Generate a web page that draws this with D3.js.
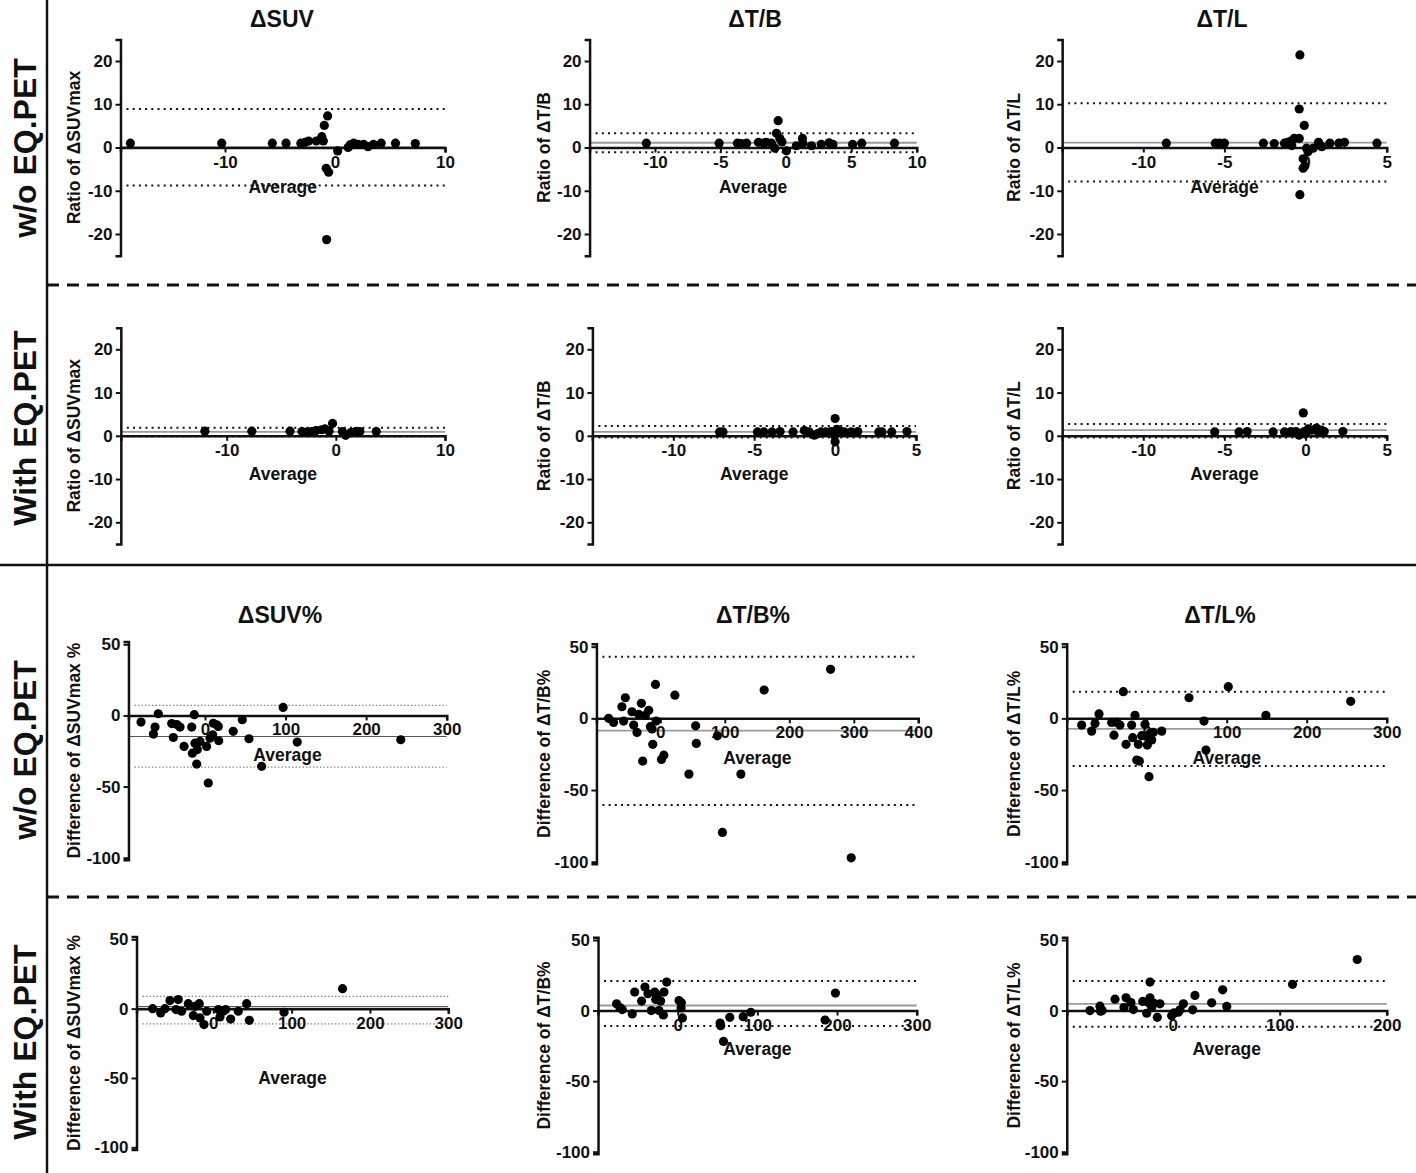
<!DOCTYPE html>
<html><head><meta charset="utf-8">
<script src="https://cdn.jsdelivr.net/npm/d3@7"></script>
<style>
html,body{margin:0;padding:0;background:#fff;}
text{font-family:"Liberation Sans",Arial,sans-serif;font-weight:bold;fill:#111;}
</style></head>
<body><svg id="c" width="1416" height="1173"></svg>
<script>
// ---------- DATA ----------
const colTitles = ["ΔSUV", "ΔT/B", "ΔT/L"];
const pctTitles = ["ΔSUV%", "ΔT/B%", "ΔT/L%"];
const rowLabels = ["w/o EQ.PET", "With EQ.PET", "w/o EQ.PET", "With EQ.PET"];
const yLabelsRatio = ["Ratio of ΔSUVmax", "Ratio of ΔT/B", "Ratio of ΔT/L"];
const yLabelsPct = ["Difference of ΔSUVmax %", "Difference of ΔT/B%", "Difference of ΔT/L%"];
const xLabel = "Average";
const ratioYTicks = [-20, -10, 0, 10, 20];
const pctYTicks = [-100, -50, 0, 50];

// Row 1: ratio, without EQ.PET  (limits = [mean, upper LoA, lower LoA])
const suvWoX = [-18.6,-10.3,-5.7,-4.45,-3.1,-2.7,-2.4,-1.7,-1.2,-1.06,-0.97,-0.67,-0.8,-0.58,-0.76,0.24,1.2,1.36,1.7,2.1,2.6,3.0,3.5,4.2,5.5,7.3];
const suvWoY = [1.0,1.0,1.0,1.0,1.0,1.2,1.5,1.5,2.5,1.5,5.1,7.3,-4.8,-5.7,-21.3,-0.8,0.0,0.6,1.0,0.7,0.7,0.2,0.7,1.0,1.0,0.9];
const suvWoLim = [0.1, 8.9, -8.8];
const suvWoXTicks = [-10, 0, 10];

const tbWoX = [-10.66,-5.1,-3.7,-3.4,-3.0,-2.1,-1.7,-1.5,-1.1,-0.84,-0.72,-0.59,-0.46,-0.3,0.05,0.8,1.27,1.3,1.96,2.7,3.3,3.6,5.1,5.8,8.3];
const tbWoY = [1.0,1.0,1.0,0.9,1.0,1.2,1.0,1.2,1.0,-0.15,3.3,6.2,2.1,1.3,-0.77,0.4,2.1,1.0,0.4,0.7,1.1,0.7,0.7,1.0,1.0];
const tbWoLim = [1.1, 3.3, -1.07];
const tbWoXTicks = [-10, -5, 0, 5, 10];

const tlWoX = [-8.58,-5.56,-5.3,-5.0,-2.6,-1.93,-1.3,-1.1,-0.9,-0.85,-0.7,-0.39,-0.35,-0.39,-0.35,-0.08,-0.15,-0.15,-0.05,0.06,0.15,0.47,0.8,1.0,1.5,2.05,2.4,4.4];
const tlWoY = [1.0,1.0,1.0,1.0,1.0,0.9,1.0,1.2,1.5,0.45,2.1,2.1,21.4,8.9,-10.9,5.1,-2.6,-4.8,-4.3,-0.15,-1.0,-0.15,1.2,0.2,1.0,1.0,1.2,1.0];
const tlWoLim = [1.15, 10.25, -7.85];
const tlWoXTicks = [-10, -5, 0, 5];

// Row 2: ratio, with EQ.PET
const suvWX = [-12.0,-7.7,-4.2,-3.1,-2.6,-2.2,-1.8,-1.3,-1.0,-0.62,-0.3,0.6,0.9,1.4,1.8,2.2,3.7];
const suvWY = [1.08,1.08,1.08,1.0,0.9,1.0,1.2,1.4,1.6,1.1,2.85,1.0,0.1,0.8,1.0,1.0,1.0];
const suvWLim = [0.92, 1.85, -0.1];
const suvWXTicks = [-10, 0, 10];

const tbWX = [-7.14,-6.93,-4.8,-4.4,-3.9,-3.4,-2.6,-1.9,-1.6,-1.28,-1.07,-0.87,-0.56,-0.25,0.0,-0.04,0.0,0.12,0.37,0.58,0.99,1.4,2.7,2.9,3.5,4.44];
const tbWY = [0.9,0.9,0.9,0.9,0.9,1.0,0.9,1.2,0.9,0.15,0.5,0.9,0.9,1.0,4.0,0.15,-1.4,1.5,1.0,0.9,0.9,1.0,0.9,0.9,0.9,1.0];
const tbWLim = [0.92, 2.25, -0.4];
const tbWXTicks = [-10, -5, 0, 5];

const tlWX = [-5.6,-4.1,-3.6,-2.0,-1.3,-0.9,-0.6,-0.4,-0.14,-0.08,0.0,0.16,0.37,0.67,0.78,0.99,1.15,2.3];
const tlWY = [0.9,0.9,1.0,0.9,0.9,1.0,1.0,0.15,5.3,1.0,0.5,1.6,1.3,1.8,0.9,1.3,1.0,1.0];
const tlWLim = [1.3, 2.7, -0.4];
const tlWXTicks = [-10, -5, 0, 5];

// Row 3: percent difference, without EQ.PET
const suvPctWoX = [-79.4,-62,-64,-58,-41.3,-39.3,-35,-31,-26,-16.5,-15.7,-13.3,-12.5,-10.3,-9.5,-6.2,2,4.1,6.2,9.5,10.3,14.5,16.5,17,35,46.3,54.6,70.3,97,114.5,243];
const suvPctWoY = [-4.7,-8.2,-13.1,1.2,-5.7,-15.5,-6.4,-8.2,-21.8,-8.2,-26.5,0.5,-19.5,-34.2,-24,-18.3,-21.8,-47.5,-16,-13.6,-5.5,-6.6,-7.7,-17.8,-11.2,-3,-16.4,-35.8,5.6,-18.7,-17.1];
const suvPctWoLim = [-14.8, 7.0, -36.3];
const suvPctWoXTicks = [0, 100, 200, 300];

const tbPctWoX = [-80.2,-72.4,-59.5,-54.2,-56.9,-43.9,-41.3,-36.1,-33.5,-29.3,-27.3,-23.1,-17.9,-15.3,-12.7,-11.7,-7.5,-6.5,1.8,5.5,22.6,44.4,54.8,55.8,88.5,96.3,125,161,264,296];
const tbPctWoY = [0,-2.8,8.1,14.4,-1.9,4.6,-4.7,-9.8,2.8,10.5,-29.8,2.1,5.6,-5.8,-7.4,-18.1,23.7,-1.9,-28.7,-25.7,16.2,-38.9,-5.2,-17.5,-12.2,-79.6,-38.9,19.8,34.2,-97.3];
const tbPctWoLim = [-8.6, 43, -60.5];
const tbPctWoXTicks = [0, 100, 200, 300, 400];

const tlPctWoX = [-81.3,-68.8,-64.6,-59.6,-43.8,-40.9,-37.5,-33.4,-29.2,-25.8,-18.8,-17.5,-14.6,-12.5,-10.4,-9.2,-6.3,-2.1,0,0.8,2.9,4.2,6.3,8.3,18.8,52.9,71.6,74.1,102,149,255];
const tlPctWoY = [-4.7,-8.9,-3.5,3.1,-2.8,-11.7,-2.8,-4.7,18.6,-18.1,-4.7,-13.5,2.1,-29.1,-18.1,-29.8,-12.1,-4.2,-12.8,-18.6,-40.7,-10.5,-15.1,-9.8,-8.9,14.4,-1.9,-22.1,22.1,2.1,11.9];
const tlPctWoLim = [-7.4, 18.6, -33.3];
const tlPctWoXTicks = [0, 100, 200, 300];

// Row 4: percent difference, with EQ.PET
const suvPctWX = [-77.4,-67.2,-61.7,-55.3,-47.6,-44.7,-40.4,-31.9,-25.5,-23.4,-17.9,-17,-11.9,-8.4,6.4,8.5,12.8,15.8,22.2,31.9,42.6,46,90.3,165];
const suvPctWY = [0,-3.1,0,5.8,-0.7,6.5,-1.9,3.6,-5,1.7,3.6,-6.7,-11.5,-1.9,-0.7,-6,-1.9,-0.7,-7.5,-1.9,3.6,-8.4,-2.6,14.4];
const suvPctWLim = [1.5, 8.9, -11];
const suvPctWXTicks = [0, 100, 200, 300];

const tbPctWX = [-76.7,-72.5,-69.6,-57,-54,-45.3,-41.1,-37.3,-33.1,-28.9,-27.6,-25.6,-23.5,-21.4,-18,-17.2,-13.8,1.7,4.6,4.2,5.9,53.2,54,57.5,65.4,82.2,91.8,185,198];
const tbPctWY = [4.8,2.1,0.7,-2.4,13.1,6.7,16.7,11.9,0,13.1,7.9,10.7,0,6.7,-3.1,13.1,20.2,7.1,5.5,1.9,-5.2,-8.8,-10.7,-21.9,-4.8,-4.3,-1.2,-6.7,12.4];
const tbPctWLim = [3.6, 21, -11];
const tbPctWXTicks = [0, 100, 200, 300];

const tlPctWX = [-77.3,-68,-67.4,-65.9,-53.9,-45.5,-43.6,-39,-36.8,-28,-24.3,-22.8,-21.2,-21.2,-19.6,-17.5,-14.4,-11.9,-1,1.2,5.3,6.8,10,18.7,20.8,36.4,46.7,50.5,112,172.5];
const tlPctWY = [0,3.1,-0.5,0,8.1,2.1,9,5.7,0.7,6.5,-1.9,5.7,20.2,9,2.4,5.2,-4.8,4.8,-3.6,-1.7,-1.2,0.5,4.8,0.5,10.7,5.5,14.7,2.9,18.6,36.2];
const tlPctWLim = [4.8, 21, -11.4];
const tlPctWXTicks = [0, 100, 200];

// ---------- LAYOUT ----------
const svg = d3.select("#c");
function lin(v1, p1, v2, p2, dom) {
  const k = (p2 - p1) / (v2 - v1);
  return d3.scaleLinear().domain(dom).range(dom.map(v => p1 + (v - v1) * k));
}
const ratioDom = [-25, 25];
const pctDom = [-101.5, 52];

const panels = [
  {x: suvWoX, y: suvWoY, lim: suvWoLim, xt: suvWoXTicks, yt: ratioYTicks, yl: yLabelsRatio[0],
   xs: lin(-10,225,10,445,[-19.5,10]), ys: lin(-20,234,20,61,ratioDom), labX: 75, avgOff: 41},
  {x: tbWoX, y: tbWoY, lim: tbWoLim, xt: tbWoXTicks, yt: ratioYTicks, yl: yLabelsRatio[1],
   xs: lin(-10,655,10,916.7,[-15,10]), ys: lin(-20,234,20,61,ratioDom), labX: 545, avgOff: 41},
  {x: tlWoX, y: tlWoY, lim: tlWoLim, xt: tlWoXTicks, yt: ratioYTicks, yl: yLabelsRatio[2],
   xs: lin(-10,1143.3,5,1386.7,[-15,5]), ys: lin(-20,234,20,61,ratioDom), labX: 1015, avgOff: 41},
  {x: suvWX, y: suvWY, lim: suvWLim, xt: suvWXTicks, yt: ratioYTicks, yl: yLabelsRatio[0],
   xs: lin(-10,226.7,10,445,[-19.7,10]), ys: lin(-20,522.3,20,349.3,ratioDom), labX: 75, avgOff: 40},
  {x: tbWX, y: tbWY, lim: tbWLim, xt: tbWXTicks, yt: ratioYTicks, yl: yLabelsRatio[1],
   xs: lin(-10,673.3,5,916,[-15,5]), ys: lin(-20,522.3,20,349.3,ratioDom), labX: 545, avgOff: 40},
  {x: tlWX, y: tlWY, lim: tlWLim, xt: tlWXTicks, yt: ratioYTicks, yl: yLabelsRatio[2],
   xs: lin(-10,1143.3,5,1386.7,[-15,5]), ys: lin(-20,522.3,20,349.3,ratioDom), labX: 1015, avgOff: 40},
  {x: suvPctWoX, y: suvPctWoY, lim: suvPctWoLim, xt: suvPctWoXTicks, yt: pctYTicks, yl: yLabelsPct[0],
   xs: lin(0,205,300,446.7,[-95,300]), ys: lin(-100,857.7,50,644.3,pctDom), labX: 75, avgOff: 41, fine: true},
  {x: tbPctWoX, y: tbPctWoY, lim: tbPctWoLim, xt: tbPctWoXTicks, yt: pctYTicks, yl: yLabelsPct[1],
   xs: lin(200,789.3,400,918.3,[-99,400]), ys: lin(-100,861.7,50,646.7,pctDom), labX: 545, avgOff: 41},
  {x: tlPctWoX, y: tlPctWoY, lim: tlPctWoLim, xt: tlPctWoXTicks, yt: pctYTicks, yl: yLabelsPct[2],
   xs: lin(100,1226.7,300,1386.7,[-100,300]), ys: lin(-100,861.7,50,646.7,pctDom), labX: 1015, avgOff: 41},
  {x: suvPctWX, y: suvPctWY, lim: suvPctWLim, xt: suvPctWXTicks, yt: pctYTicks, yl: yLabelsPct[0],
   xs: lin(0,213.3,300,448.3,[-98,300]), ys: lin(-100,1147.3,50,939.3,pctDom), labX: 75, avgOff: 71, fine: true},
  {x: tbPctWX, y: tbPctWY, lim: tbPctWLim, xt: tbPctWXTicks, yt: pctYTicks, yl: yLabelsPct[1],
   xs: lin(0,677.7,300,916.7,[-100,300]), ys: lin(-100,1151.7,50,940,pctDom), labX: 545, avgOff: 40},
  {x: tlPctWX, y: tlPctWY, lim: tlPctWLim, xt: tlPctWXTicks, yt: pctYTicks, yl: yLabelsPct[2],
   xs: lin(0,1172.7,200,1386.7,[-99,200]), ys: lin(-100,1151.7,50,940,pctDom), labX: 1015, avgOff: 40}
];

// ---------- FRAME ----------
svg.append("line").attr("x1",47).attr("x2",47).attr("y1",0).attr("y2",1173)
  .attr("stroke","#111").attr("stroke-width",2.5);
svg.append("line").attr("x1",0).attr("x2",1416).attr("y1",565).attr("y2",565)
  .attr("stroke","#111").attr("stroke-width",2.5);
[285, 897].forEach(yy => svg.append("line").attr("x1",47).attr("x2",1416).attr("y1",yy).attr("y2",yy)
  .attr("stroke","#111").attr("stroke-width",3).attr("stroke-dasharray","12,8"));

const titleX = [282, 755, 1222];
colTitles.forEach((t,i) => svg.append("text").attr("x",titleX[i]).attr("y",27)
  .attr("text-anchor","middle").style("font-size","23px").text(t));
pctTitles.forEach((t,i) => svg.append("text").attr("x",titleX[i]-2).attr("y",623)
  .attr("text-anchor","middle").style("font-size","23px").text(t));
const rowCY = [148, 428, 750, 1042];
rowLabels.forEach((t,i) => svg.append("text")
  .attr("transform",`translate(36,${rowCY[i]}) rotate(-90)`)
  .attr("text-anchor","middle").style("font-size","32px").text(t));

// ---------- PANELS ----------
const fmt = d => String(d);
panels.forEach(p => {
  const g = svg.append("g");
  const xs = p.xs, ys = p.ys;
  const xr = xs.range(), yr = ys.range();
  const y0 = ys(0);
  // limits of agreement (dotted) and mean (grey)
  [p.lim[1], p.lim[2]].forEach(v => g.append("line")
    .attr("x1", xr[0] + 6).attr("x2", xr[1]).attr("y1", ys(v)).attr("y2", ys(v))
    .attr("stroke", p.fine ? "#888" : "#111").attr("stroke-width", p.fine ? 1.2 : 2)
    .attr("stroke-dasharray", p.fine ? "1.5,2" : "2,4.2"));
  g.append("line").attr("x1", xr[0]).attr("x2", xr[1]).attr("y1", ys(p.lim[0])).attr("y2", ys(p.lim[0]))
    .attr("stroke", p.fine ? "#555" : "#9a9a9a").attr("stroke-width", p.fine ? 1.2 : 1.8);

  // y axis
  const ya = g.append("g").attr("transform",`translate(${xr[0]},0)`)
    .call(d3.axisLeft(ys).tickValues(p.yt).tickFormat(fmt).tickSizeOuter(0).tickSize(5).tickPadding(3));
  // x axis at y = 0
  const xa = g.append("g").attr("transform",`translate(0,${y0})`)
    .call(d3.axisBottom(xs).tickValues(p.xt).tickFormat(fmt).tickSizeOuter(0).tickSize(5).tickPadding(3));
  [ya, xa].forEach(a => {
    a.select(".domain").attr("stroke","#111").attr("stroke-width",2.5);
    a.selectAll(".tick line").attr("stroke","#111").attr("stroke-width",2);
    a.selectAll(".tick text").style("font-size","17px").style("font-family","'Liberation Sans',Arial,sans-serif")
      .style("font-weight","bold").attr("fill","#111");
  });

  // axis titles
  g.append("text").attr("x",(xr[0]+xr[1])/2).attr("y",y0 + p.avgOff)
    .attr("text-anchor","middle").attr("dominant-baseline","middle").style("font-size","17.5px").text(xLabel);
  g.append("text").attr("transform",`translate(${p.labX},${(yr[0]+yr[1])/2}) rotate(-90)`)
    .attr("text-anchor","middle").attr("dominant-baseline","middle").style("font-size","17.5px").text(p.yl);

  // points
  const pts = p.x.map((v,i) => [v, p.y[i]]);
  g.selectAll("circle").data(pts).enter().append("circle")
    .attr("cx", d => xs(d[0])).attr("cy", d => ys(d[1])).attr("r", 4.6).attr("fill","#000");
});
</script></body></html>
